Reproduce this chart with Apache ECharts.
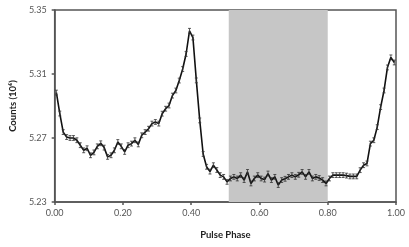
<!DOCTYPE html>
<html><head><meta charset="utf-8">
<script src="https://cdn.jsdelivr.net/npm/echarts@6/dist/echarts.min.js"></script>
<style>html,body{margin:0;padding:0;background:#fff}#c{width:409px;height:247px}</style>
</head><body><div id="c"></div>
<script>
// Pulse phase bin centres
const phases = [];
for (let i = 0; i < 100; i++) phases.push(+(0.005 + i * 0.01).toFixed(3));
// Counts (10^6)
const counts = [
5.2984,5.2853,5.2737,5.2706,5.2700,5.2700,5.2686,5.2655,5.2623,5.2636,
5.2592,5.2610,5.2648,5.2667,5.2640,5.2582,5.2592,5.2623,5.2675,5.2648,
5.2613,5.2655,5.2665,5.2686,5.2660,5.2717,5.2737,5.2758,5.2790,5.2800,
5.2790,5.2852,5.2883,5.2903,5.2965,5.2997,5.3059,5.3131,5.3225,5.3370,
5.3328,5.3060,5.2810,5.2600,5.2520,5.2490,5.2530,5.2500,5.2468,5.2457,
5.2426,5.2447,5.2457,5.2447,5.2468,5.2437,5.2488,5.2416,5.2447,5.2468,
5.2447,5.2440,5.2478,5.2437,5.2457,5.2406,5.2437,5.2445,5.2457,5.2468,
5.2457,5.2470,5.2488,5.2457,5.2488,5.2447,5.2457,5.2450,5.2437,5.2416,
5.2447,5.2468,5.2468,5.2468,5.2468,5.2465,5.2460,5.2460,5.2460,5.2499,
5.2530,5.2541,5.2665,5.2686,5.2768,5.2893,5.2997,5.3141,5.3204,5.3172];
// Error (1 sigma), same units
const errors = new Array(100).fill(0.0015);
// Shaded phase interval
const bandRange = [0.51, 0.80];
// Axis settings
const yBase = 5.23, yTickStep = 0.04, yTop = 5.35;
const xTickStep = 0.2;

const S = 100; // plot (v - yBase) * S so ticks start at 0
const lineData = phases.map((p, i) => [p, (counts[i] - yBase) * S]);
const errData = phases.map((p, i) => [p, (counts[i] - errors[i] - yBase) * S, (counts[i] + errors[i] - yBase) * S]);

const chart = echarts.init(document.getElementById('c'));
const font = 'Lato, "Open Sans", sans-serif';
chart.setOption({
  animation: false,
  grid: { left: 51, right: 13, top: 10, bottom: 45, show: true, borderColor: '#555', borderWidth: 1.5, backgroundColor: 'transparent' },
  xAxis: {
    type: 'value', min: 0, max: 1, interval: xTickStep,
    axisLine: { lineStyle: { color: '#555', width: 1.5 } },
    axisTick: { show: true, length: 3, lineStyle: { color: '#555', width: 1.5 } },
    splitLine: { show: false },
    axisLabel: { formatter: v => v.toFixed(2), color: '#555', fontSize: 9, fontFamily: font, margin: 7 },
    name: 'Pulse Phase', nameLocation: 'middle', nameGap: 28,
    nameTextStyle: { fontWeight: 'bold', fontSize: 9.5, color: '#222', fontFamily: font }
  },
  yAxis: {
    type: 'value', min: 0, max: (yTop - yBase) * S, interval: yTickStep * S,
    axisLine: { show: true, lineStyle: { color: '#555', width: 1.5 } },
    axisTick: { show: true, length: 3, lineStyle: { color: '#555', width: 1.5 } },
    splitLine: { show: false },
    axisLabel: { formatter: v => (yBase + v / S).toFixed(2), color: '#555', fontSize: 9, fontFamily: font, margin: 8 },
    name: 'Counts (10⁶)', nameLocation: 'middle', nameGap: 36, nameRotate: 90,
    nameTextStyle: { fontWeight: 'bold', fontSize: 9.5, color: '#222', fontFamily: font }
  },
  series: [
    {
      type: 'line', data: lineData, symbol: 'none', z: 3,
      lineStyle: { color: '#111', width: 1.6 },
      markArea: {
        silent: true,
        itemStyle: { color: '#c6c6c6' },
        data: [[{ xAxis: bandRange[0] }, { xAxis: bandRange[1] }]]
      }
    },
    {
      type: 'custom', z: 4,
      data: errData,
      renderItem: (params, api) => {
        const x = api.value(0);
        const lo = api.coord([x, api.value(1)]);
        const hi = api.coord([x, api.value(2)]);
        const w = 1.5;
        const st = { stroke: '#333', lineWidth: 0.8 };
        return { type: 'group', children: [
          { type: 'line', shape: { x1: lo[0], y1: lo[1], x2: hi[0], y2: hi[1] }, style: st },
          { type: 'line', shape: { x1: lo[0] - w, y1: lo[1], x2: lo[0] + w, y2: lo[1] }, style: st },
          { type: 'line', shape: { x1: hi[0] - w, y1: hi[1], x2: hi[0] + w, y2: hi[1] }, style: st }
        ]};
      },
      encode: { x: 0, y: [1, 2] }
    }
  ]
});
</script></body></html>
